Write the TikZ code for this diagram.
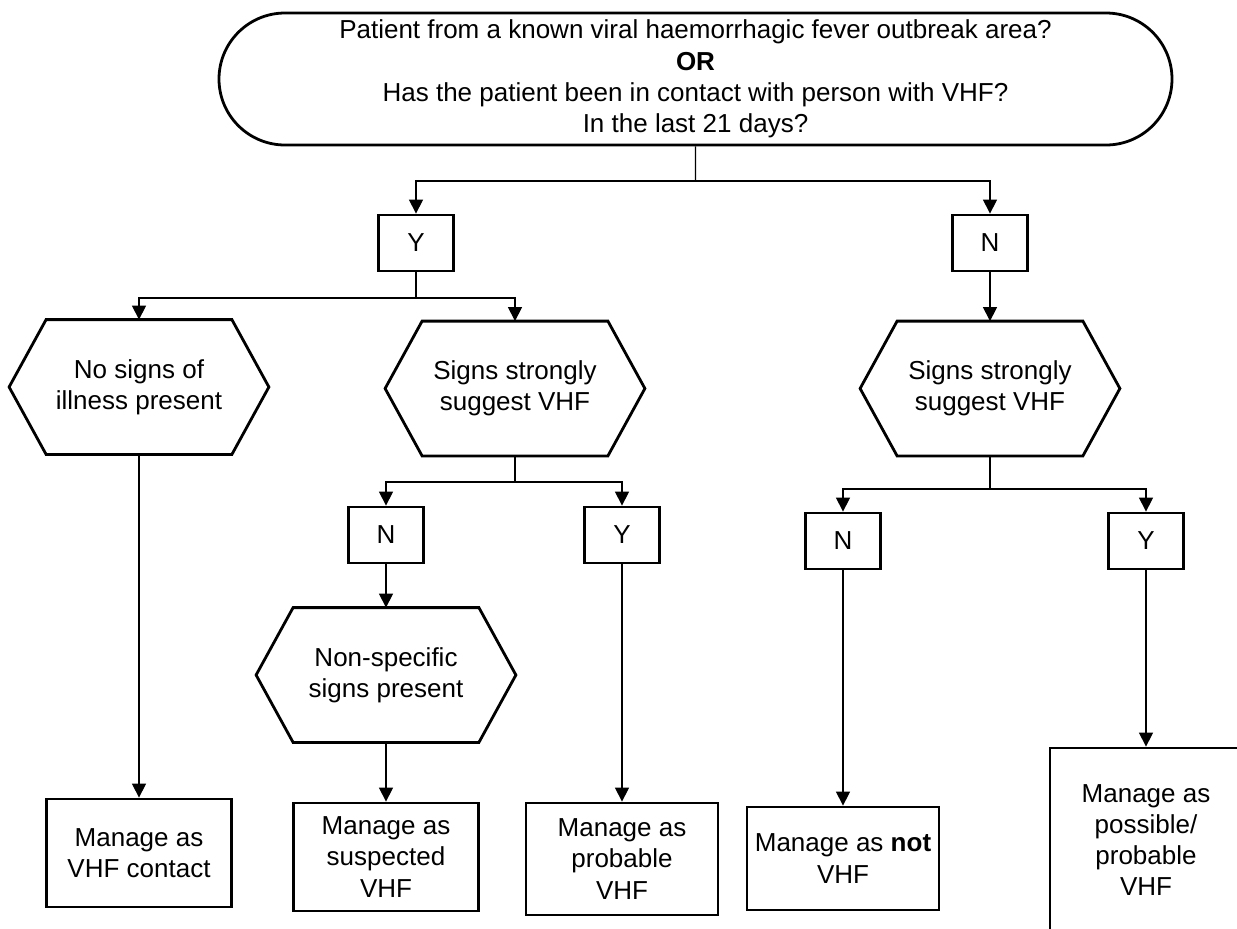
\documentclass[tikz,border=0pt]{standalone}
\usepackage{fontspec}
\setmainfont{Liberation Sans}
\usetikzlibrary{shapes.misc,arrows.meta}
\begin{document}
\begin{tikzpicture}
[
    x=0.5pt, y=-0.5pt,
    every node/.style={font=\fontsize{13}{15.6}\selectfont, align=center, inner sep=1pt},
    startbox/.style={shape=rounded rectangle, draw, line width=1.4pt, minimum width=478.5pt, minimum height=66pt},
    ynbox/.style={shape=rectangle, draw, line width=1.4pt, minimum width=37.5pt, minimum height=28pt},
    hexbox/.style={shape=rectangle, minimum width=129.5pt, minimum height=67pt},
    endbox/.style={shape=rectangle, draw, line width=1.4pt, minimum width=92.5pt, minimum height=54pt},
    link/.style={line width=0.6pt},
    arr/.style={link, -{Triangle[length=7pt,width=7pt]}},
]

\useasboundingbox (0,0) rectangle (1237,928);

\node[startbox](q) at (695.5,79){Patient from a known viral haemorrhagic fever outbreak area?\\ \textbf{OR}\\ Has the patient been in contact with person with VHF?\\ In the last 21 days?};

\node[ynbox](y1) at (416,243){Y};
\node[ynbox](n1) at (990,243){N};

\node[hexbox](noill) at (139,387){No signs of\\ illness present};
\node[hexbox](strong1) at (515,388.5){Signs strongly\\ suggest VHF};
\node[hexbox](strong2) at (990,388.5){Signs strongly\\ suggest VHF};

\node[ynbox](n2) at (386,535){N};
\node[ynbox](y2) at (622,535){Y};
\node[ynbox](n3) at (843,541){N};
\node[ynbox](y3) at (1146,541){Y};

\node[hexbox](nonspec) at (386,675){Non-specific\\ signs present};

\node[endbox](contact) at (139,853){Manage as\\ VHF contact};
\node[endbox](suspected) at (386,857){Manage as\\ suspected\\ VHF};
\node[endbox, minimum width=96pt, minimum height=56pt](probable) at (622,859){Manage as\\ probable\\ VHF};
\node[endbox, minimum width=96pt, minimum height=51.5pt](notvhf) at (843,858.5){Manage as \textbf{not}\\ VHF};
\node[endbox, minimum width=96pt, minimum height=92pt](possible) at (1146,840){Manage as\\ possible/\\ probable\\ VHF};

% hexagon outlines
\foreach \h in {noill,strong1,strong2,nonspec}
    \draw[line width=1.4pt] (\h.west) -- ([xshift=18.5pt]\h.north west) -- ([xshift=-18.5pt]\h.north east) -- (\h.east) -- ([xshift=-18.5pt]\h.south east) -- ([xshift=18.5pt]\h.south west) -- cycle;

\coordinate (s1) at (695.5,181);
\coordinate (s2) at (416,298);
\coordinate (s3) at (515,482);
\coordinate (s4) at (990,489);

\draw[link] (q) -- (s1);
\draw[arr] (s1) -| (y1);
\draw[arr] (s1) -| (n1);

\draw[link] (y1) -- (s2);
\draw[arr] (s2) -| (noill);
\draw[arr] (s2) -| (strong1);
\draw[arr] (n1) -- (strong2);

\draw[link] (strong1) -- (s3);
\draw[arr] (s3) -| (n2);
\draw[arr] (s3) -| (y2);
\draw[link] (strong2) -- (s4);
\draw[arr] (s4) -| (n3);
\draw[arr] (s4) -| (y3);

\draw[arr] (n2) -- (nonspec);
\draw[arr] (noill) -- (contact);
\draw[arr] (nonspec) -- (suspected);
\draw[arr] (y2) -- (probable);
\draw[arr] (n3) -- (notvhf);
\draw[arr] (y3) -- (possible);

\end{tikzpicture}
\end{document}
